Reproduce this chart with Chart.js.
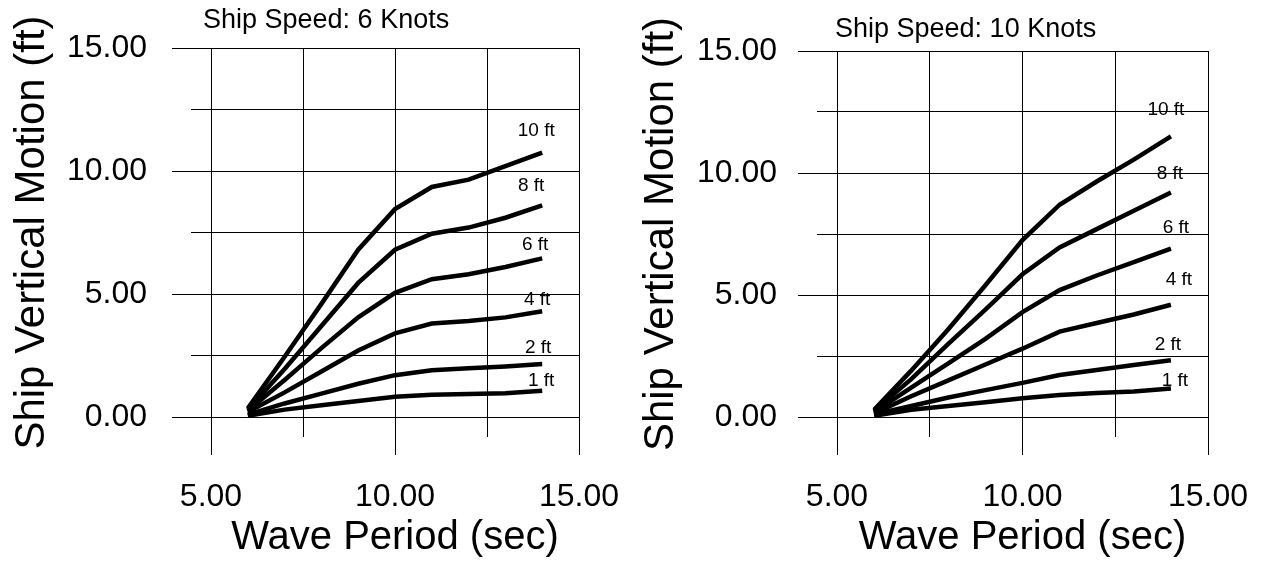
<!DOCTYPE html>
<html>
<head>
<meta charset="utf-8">
<script src="https://cdn.jsdelivr.net/npm/chart.js@4.4.1/dist/chart.umd.min.js"></script>
<style>
  html, body { margin: 0; padding: 0; background: #fff; }
  .wrap { position: relative; width: 1262px; height: 565px; }
  .panel { position: absolute; top: 0; width: 631px; height: 565px; }
</style>
</head>
<body>
<div class="wrap">
  <div class="panel" style="left:0"><canvas id="speed6" width="631" height="565"></canvas></div>
  <div class="panel" style="left:631px"><canvas id="speed10" width="631" height="565"></canvas></div>
</div>
<script>
// wave period (sec) at which each curve was read
const periods = [6, 7, 8, 9, 10, 11, 12, 13, 14];
const waveHeights = ['10 ft', '8 ft', '6 ft', '4 ft', '2 ft', '1 ft'];

// ship speed 6 knots, vertical motion (ft)
const knots6_10ft = [0.35, 2.45, 4.6, 6.8, 8.45, 9.35, 9.65, 10.2, 10.75];
const knots6_8ft  = [0.3, 1.95, 3.7, 5.45, 6.8, 7.45, 7.7, 8.1, 8.6];
const knots6_6ft  = [0.25, 1.5, 2.8, 4.05, 5.05, 5.6, 5.8, 6.1, 6.45];
const knots6_4ft  = [0.2, 1.0, 1.85, 2.7, 3.4, 3.8, 3.9, 4.05, 4.3];
const knots6_2ft  = [0.1, 0.55, 0.95, 1.35, 1.7, 1.9, 1.98, 2.05, 2.15];
const knots6_1ft  = [0.05, 0.3, 0.48, 0.65, 0.82, 0.9, 0.93, 0.97, 1.07];

// ship speed 10 knots, vertical motion (ft)
const knots10_10ft = [0.3, 1.9, 3.6, 5.4, 7.25, 8.7, 9.65, 10.55, 11.5];
const knots10_8ft  = [0.25, 1.55, 3.0, 4.4, 5.85, 6.95, 7.7, 8.45, 9.2];
const knots10_6ft  = [0.2, 1.2, 2.2, 3.2, 4.3, 5.2, 5.8, 6.35, 6.9];
const knots10_4ft  = [0.15, 0.85, 1.5, 2.15, 2.8, 3.5, 3.85, 4.2, 4.6];
const knots10_2ft  = [0.1, 0.45, 0.8, 1.1, 1.4, 1.72, 1.93, 2.13, 2.33];
const knots10_1ft  = [0.05, 0.3, 0.45, 0.6, 0.77, 0.9, 0.98, 1.05, 1.17];

const BLACK = '#000';
const FONT = "'Liberation Sans', Arial, Helvetica, sans-serif";

function alignPx(p) {
    return Math.round(p - 0.5) + 0.5;
}

// short ticks for the 2.5 steps (the 5.00 steps use the longer grid ticks)
const minorTicks = {
    id: 'minorTicks',
    afterDraw(chart, args, opts) {
        const { ctx, chartArea, scales: { x, y } } = chart;
        ctx.save();
        ctx.strokeStyle = BLACK;
        ctx.lineWidth = 1;
        ctx.beginPath();
        x.ticks.forEach(t => {
            if (t.value % 5 !== 0) {
                const px = alignPx(x.getPixelForValue(t.value));
                ctx.moveTo(px, chartArea.bottom);
                ctx.lineTo(px, chartArea.bottom + opts.length);
            }
        });
        y.ticks.forEach(t => {
            if (t.value % 5 !== 0) {
                const py = alignPx(y.getPixelForValue(t.value));
                ctx.moveTo(chartArea.left - opts.length, py);
                ctx.lineTo(chartArea.left, py);
            }
        });
        ctx.stroke();
        ctx.restore();
    }
};

// panel heading + the "10 ft" ... "1 ft" tags at the end of each curve
const annotate = {
    id: 'annotate',
    afterDatasetsDraw(chart, args, opts) {
        const { ctx, chartArea } = chart;
        ctx.save();
        ctx.fillStyle = BLACK;
        ctx.font = `27px ${FONT}`;
        ctx.textAlign = 'left';
        ctx.textBaseline = 'alphabetic';
        ctx.fillText(opts.title, chartArea.left + opts.titleDx, chartArea.top + opts.titleDy);

        ctx.font = `19px ${FONT}`;
        ctx.textAlign = 'center';
        ctx.textBaseline = 'middle';
        chart.data.datasets.forEach((ds, i) => {
            const pts = chart.getDatasetMeta(i).data;
            const last = pts[pts.length - 1];
            const [dx, dy] = opts.nudge[i];
            ctx.fillText(ds.label, last.x + dx, last.y + dy);
        });
        ctx.restore();
    }
};

function buildSets(seriesList) {
    return seriesList.map((vals, i) => ({
        label: waveHeights[i],
        data: periods.map((p, j) => ({ x: p, y: vals[j] })),
        borderColor: BLACK,
        backgroundColor: BLACK,
        borderWidth: 4.5,
        pointRadius: 0,
        tension: 0,
        fill: false
    }));
}

const majorOnly = c => (c.tick && c.tick.value % 5 === 0 ? BLACK : 'rgba(0,0,0,0)');
const fmt = v => (v % 5 === 0 ? Number(v).toFixed(2) : '');

function makeChart(canvasId, seriesList, cfg) {
    return new Chart(document.getElementById(canvasId), {
        type: 'line',
        data: { datasets: buildSets(seriesList) },
        options: {
            responsive: false,
            animation: false,
            devicePixelRatio: 1,
            layout: { padding: { left: 0, top: cfg.top, right: cfg.right, bottom: 0 } },
            plugins: {
                legend: { display: false },
                title: { display: false },
                tooltip: { enabled: false },
                minorTicks: { length: 20 },
                annotate: { title: cfg.title, titleDx: cfg.titleDx, titleDy: cfg.titleDy, nudge: cfg.nudge }
            },
            scales: {
                x: {
                    type: 'linear',
                    min: 5,
                    max: 15,
                    afterFit: s => {
                        s.height = 148;
                        // the layout padding already leaves room for the end labels
                        s.paddingLeft = 0;
                        s.paddingRight = 0;
                    },
                    grid: { color: BLACK, lineWidth: 1, tickLength: 38, tickColor: majorOnly },
                    border: { color: BLACK, width: 1 },
                    ticks: {
                        stepSize: 2.5,
                        autoSkip: false,
                        maxRotation: 0,
                        padding: 23,
                        color: BLACK,
                        font: { family: FONT, size: 32 },
                        callback: fmt
                    },
                    title: {
                        display: true,
                        text: 'Wave Period (sec)',
                        color: BLACK,
                        font: { family: FONT, size: 40 },
                        padding: { top: 0, bottom: 3 }
                    }
                },
                y: {
                    min: 0,
                    max: 15,
                    afterFit: s => {
                        s.width = cfg.yWidth;
                        s.paddingTop = 0;
                        s.paddingBottom = 0;
                    },
                    grid: { color: BLACK, lineWidth: 1, tickLength: 39, tickColor: majorOnly },
                    border: { color: BLACK, width: 1 },
                    ticks: {
                        stepSize: 2.5,
                        autoSkip: false,
                        padding: cfg.yPad,
                        color: BLACK,
                        font: { family: FONT, size: 32 },
                        callback: fmt
                    },
                    title: {
                        display: true,
                        text: 'Ship Vertical Motion (ft)',
                        color: BLACK,
                        font: { family: FONT, size: 42 },
                        padding: { top: cfg.yTitlePad, bottom: 0 }
                    }
                }
            }
        },
        plugins: [minorTicks, annotate]
    });
}

makeChart('speed6',
    [knots6_10ft, knots6_8ft, knots6_6ft, knots6_4ft, knots6_2ft, knots6_1ft],
    {
        title: 'Ship Speed: 6 Knots', titleDx: -8, titleDy: -20,
        top: 48, right: 52, yWidth: 211, yPad: 25, yTitlePad: 7,
        nudge: [[-6, -22], [-11, -20], [-7, -14], [-5, -11], [-4, -16], [-1, -10]]
    });

makeChart('speed10',
    [knots10_10ft, knots10_8ft, knots10_6ft, knots10_4ft, knots10_2ft, knots10_1ft],
    {
        title: 'Ship Speed: 10 Knots', titleDx: -2, titleDy: -14,
        top: 51, right: 54, yWidth: 206, yPad: 21, yTitlePad: 5,
        nudge: [[-5, -27], [-1, -19], [5, -21], [8, -25], [-3, -15], [4, -8]]
    });
</script>
</body>
</html>
